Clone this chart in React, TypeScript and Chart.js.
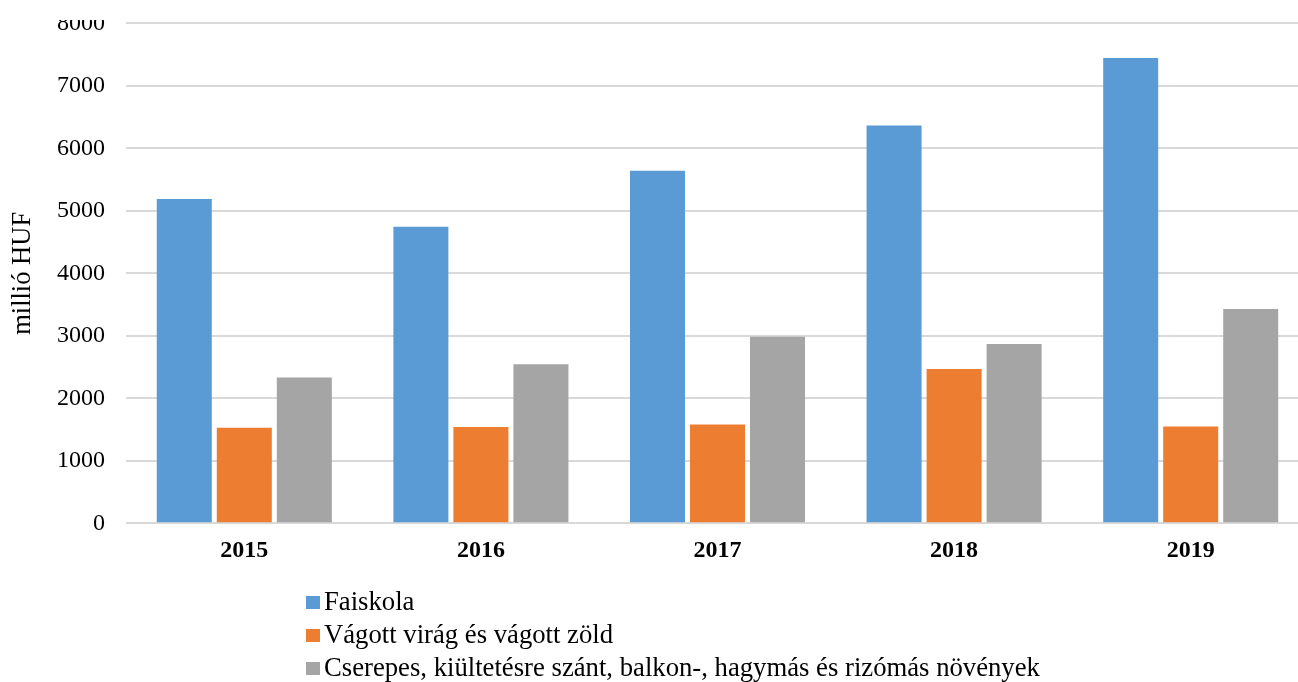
import React, { useEffect, useRef } from "react";
import { Chart, registerables } from "chart.js";

Chart.register(...registerables);

const categories = ["2015", "2016", "2017", "2018", "2019"];
const seriesNames = [
  "Faiskola",
  "Vágott virág és vágott zöld",
  "Cserepes, kiültetésre szánt, balkon-, hagymás és rizómás növények",
];
const faiskola = [5190, 4745, 5640, 6365, 7445];
const vagott = [1530, 1540, 1580, 2470, 1550];
const cserepes = [2335, 2545, 2985, 2870, 3430];
const seriesColors = ["#5B9BD5", "#ED7D31", "#A5A5A5"];
const yTicks = [0, 1000, 2000, 3000, 4000, 5000, 6000, 7000, 8000];
const yTitle = "millió HUF";

const FONT = "'Liberation Serif', 'Times New Roman', serif";

const columnLegend = {
  id: "columnLegend",
  afterDraw(chart: any) {
    const ctx = chart.ctx;
    const x0 = 306;
    const rowY = [602, 635, 668];
    ctx.save();
    ctx.font = `26.7px ${FONT}`;
    ctx.textBaseline = "middle";
    ctx.textAlign = "left";
    chart.data.datasets.forEach((ds: any, i: number) => {
      const y = rowY[i];
      ctx.fillStyle = ds.backgroundColor;
      ctx.fillRect(x0, y - 6, 14, 13);
      ctx.fillStyle = "#000";
      ctx.fillText(ds.label, x0 + 18, y + 1);
    });
    ctx.restore();
  },
};

export default function App() {
  const ref = useRef<HTMLCanvasElement | null>(null);

  useEffect(() => {
    if (!ref.current) return;
    const data = [faiskola, vagott, cserepes];
    const chart = new Chart(ref.current, {
      type: "bar",
      data: {
        labels: categories,
        datasets: seriesNames.map((name, i) => ({
          label: name,
          data: data[i],
          backgroundColor: seriesColors[i],
          borderWidth: 0,
          categoryPercentage: 0.761,
          barPercentage: 0.9167,
        })),
      },
      options: {
        responsive: false,
        animation: false,
        layout: { padding: { top: 23.4, bottom: 682 - 523.3 - 60, left: 0, right: 0 } },
        plugins: {
          legend: { display: false },
          tooltip: { enabled: false },
          title: { display: false },
        },
        scales: {
          x: {
            grid: { display: false, drawTicks: false },
            border: { display: false },
            ticks: {
              color: "#000",
              padding: 13,
              font: { family: FONT, size: 24, weight: "bold" },
            },
            afterFit: (scale: any) => {
              scale.height = 60;
              scale.paddingLeft = 0;
              scale.paddingRight = 0;
            },
          },
          y: {
            min: 0,
            max: 8000,
            afterBuildTicks: (scale: any) => {
              scale.ticks = yTicks.map((v) => ({ value: v }));
            },
            grid: { color: "#d9d9d9", lineWidth: 2, drawTicks: false },
            border: { display: false },
            ticks: {
              color: "#000",
              padding: 21,
              font: { family: FONT, size: 24 },
              callback: (v: any) => String(v),
            },
            title: {
              display: true,
              text: yTitle,
              color: "#000",
              font: { family: FONT, size: 26.5 },
              padding: { top: 7, bottom: 0 },
            },
            afterFit: (scale: any) => {
              scale.width = 126;
              scale.paddingTop = 0;
              scale.paddingBottom = 0;
            },
          },
        },
      },
      plugins: [columnLegend],
    });
    return () => chart.destroy();
  }, []);

  return (
    <div
      style={{
        position: "fixed",
        left: 0,
        top: 20,
        width: 1298,
        height: 662,
        overflow: "hidden",
        background: "#fff",
      }}
    >
      <canvas
        ref={ref}
        width={1309}
        height={682}
        style={{ position: "absolute", left: 0, top: -20, width: "1309px", height: "682px", display: "block" }}
      />
    </div>
  );
}
